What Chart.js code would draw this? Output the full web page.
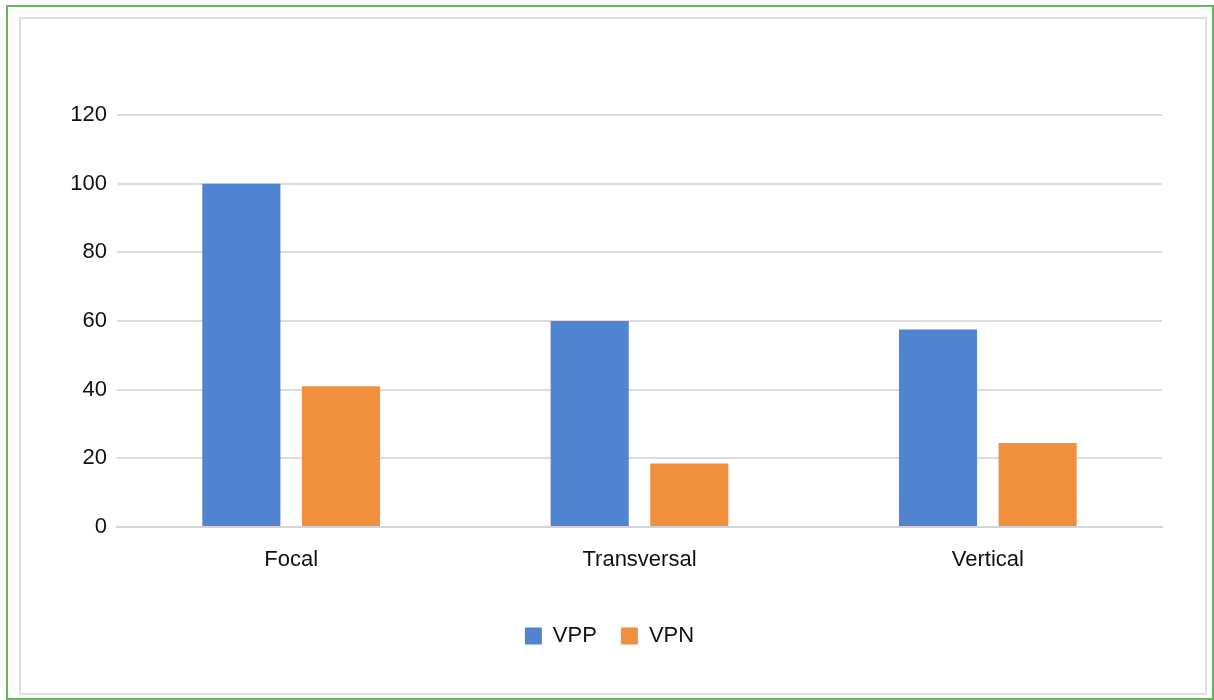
<!DOCTYPE html>
<html>
<head>
<meta charset="utf-8">
<script src="https://cdn.jsdelivr.net/npm/chart.js@4"></script>
<style>
  html, body { margin: 0; padding: 0; background: #fff; }
  body { width: 1214px; height: 700px; position: relative; overflow: hidden; font-family: "Liberation Sans", Arial, sans-serif; }
  #outer { position: absolute; left: 6px; top: 5px; width: 1204px; height: 691px; border: 2px solid #63b95a; }
  #inner { position: absolute; left: 19px; top: 17px; width: 1184px; height: 674px; border: 2px solid #dedede; }
  #wrap { position: absolute; left: 0; top: 0; width: 1214px; height: 700px; }
</style>
</head>
<body>
<div id="outer"></div>
<div id="inner"></div>
<div id="wrap"><canvas id="chart" width="1214" height="700"></canvas></div>
<script>
// valeurs
const categories = ["Focal", "Transversal", "Vertical"];
const vppValues = [100, 60, 57.5];
const vpnValues = [41, 18.5, 24.5];
const yTicks = [0, 20, 40, 60, 80, 100, 120];

Chart.defaults.font.family = '"Liberation Sans", Arial, sans-serif';
Chart.defaults.font.size = 22;
Chart.defaults.color = '#111';

const ctx = document.getElementById('chart').getContext('2d');
new Chart(ctx, {
    type: 'bar',
    data: {
        labels: categories,
        datasets: [
            { label: 'VPP', data: vppValues, backgroundColor: '#5083d0', categoryPercentage: 0.572, barPercentage: 0.784 },
            { label: 'VPN', data: vpnValues, backgroundColor: '#f0903c', categoryPercentage: 0.572, barPercentage: 0.784 }
        ]
    },
    options: {
        responsive: false,
        animation: false,
        devicePixelRatio: 1,
        layout: { padding: { left: 57, right: 52, top: 115, bottom: 43 } },
        plugins: {
            tooltip: { enabled: false },
            legend: {
                position: 'bottom',
                labels: { boxWidth: 17, boxHeight: 17, padding: 24, color: '#111' }
            }
        },
        scales: {
            x: {
                grid: { display: false, drawTicks: false },
                border: { color: '#d4d4d4', width: 2 },
                ticks: { padding: 20 },
                afterFit: s => { s.height = 74; }
            },
            y: {
                min: 0,
                max: 120,
                afterBuildTicks: s => { s.ticks = yTicks.map(v => ({ value: v })); },
                grid: { color: '#dcdcdc', lineWidth: 2, drawTicks: false },
                border: { display: false },
                ticks: { padding: 10 },
                afterFit: s => { s.width = 60; }
            }
        }
    }
});
</script>
</body>
</html>
